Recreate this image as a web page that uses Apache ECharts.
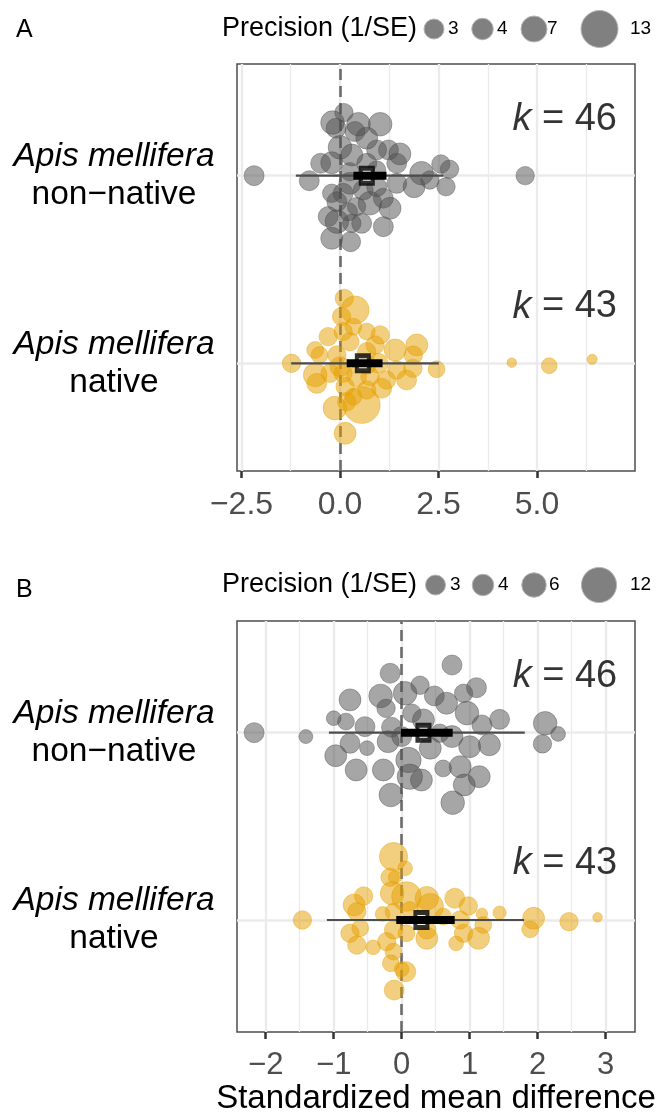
<!DOCTYPE html>
<html>

<head>
    <meta charset="utf-8">
    <script src="https://cdn.jsdelivr.net/npm/echarts@6/dist/echarts.min.js"></script>
    <style>
        html, body { margin: 0; padding: 0; background: #fff; }
    </style>
</head>

<body>
    <div id="main" style="width: 664px;height:1115px;"></div>
    <script type="text/javascript">
        // rows: native = 1, non-native = 2 (y grows upward)
        var rowNames = ['native', 'non\u2212native'];

        // ---------- panel A ----------
        var aNonEffect = [-2.18, -0.78, -0.49, -0.21, 0.10, -0.19, -0.10, 0.47, 0.38, 1.02, 0.68, 0.00, 0.30, 0.93, 1.23, 1.52,
            1.44, 0.68, 2.07, 2.56, 2.78, 2.69, 2.28, 1.88, 1.44, 4.70, 0.25, 0.59, 0.93, -0.21, -0.08, 0.76, 1.10, 1.27,
            -0.30, -0.08, 0.30, 0.55, 0.21, 1.10, -0.21, 0.27, 0.25, 0.93, 0.08, 0.42];
        var aNonJitter = [0, -0.027, 0.066, 0.069, 0.336, 0.283, 0.253, 0.274, 0.235, 0.274, 0.2, 0.151, 0.11, 0.137, 0.137, 0.116,
            0.066, 0.066, 0.013, 0.062, 0.034, -0.059, -0.023, -0.059, -0.041, 0, -0.041, -0.077, -0.059, -0.094, -0.139, -0.147,
            -0.12, -0.174, -0.218, -0.245, -0.254, -0.254, -0.192, -0.272, -0.334, -0.352, 0.021, 0.03, -0.094, -0.165];
        var aNonPrecision = [3, 3, 3, 4.3, 2.7, 5.4, 3, 5.4, 3, 5.4, 4.3, 5.4, 4.3, 3, 3, 4.3,
            3, 3, 5.4, 2.7, 2.7, 2.7, 2.7, 4.3, 3, 2.7, 4.3, 3, 3, 2.7, 3, 5.4,
            3, 4.3, 3, 5.4, 2.7, 3, 2.7, 3, 4.3, 3, 2.7, 2.7, 3, 2.7];

        var aNatEffect = [0.11, 0.38, 0.04, 0.34, -0.30, 0.08, 0.68, 1.02, 0.25, 0.89, -0.63, -0.52, -0.08, 0.68, 1.40, 1.95,
            1.86, -1.23, -0.63, -0.59, -0.25, 0.08, 0.42, 0.76, 0.97, 1.44, 1.69, 1.85, 2.45, 4.36, 5.31, 6.40,
            0.13, 0.68, 1.06, -0.13, 0.55, 0.17, 0.34, 0.13, 0.00, 0.68, 1.18];
        var aNatJitter = [0.346, 0.284, 0.249, 0.195, 0.142, 0.169, 0.169, 0.151, 0.115, 0.098, 0.071, 0.044, 0.044, 0.062, 0.071, 0.098,
            0.044, 0, -0.062, -0.107, -0.053, -0.053, -0.071, -0.071, 0, -0.036, -0.089, -0.027, -0.032, 0.003, -0.013, 0.021,
            -0.124, -0.142, -0.133, -0.239, -0.222, -0.205, -0.178, -0.373, -0.018, -0.009, -0.089];
        var aNatPrecision = [2.7, 8.2, 2.7, 2.4, 2.7, 2.7, 2.4, 2.7, 2.7, 2.7, 2.4, 2.4, 2.7, 2.7, 4.3, 4.3,
            2.7, 2.7, 5.4, 3, 2.7, 2.7, 3, 2.7, 3, 2.7, 3, 2.7, 2.4, 1, 2.2, 1.1,
            2.7, 2.7, 3, 5.4, 13, 2.7, 2.4, 4.3, 3, 2.7, 2.7];

        // [native, non-native]
        var aMean = [0.58, 0.68];
        var aCiLow = [0.17, 0.34];
        var aCiHigh = [1.08, 1.18];
        var aPiLow = [-1.24, -1.12];
        var aPiHigh = [2.51, 2.62];
        var aK = [43, 46];
        var aTicks = [-2.5, 0, 2.5, 5];
        var aTickLabels = ['\u22122.5', '0.0', '2.5', '5.0'];
        var aMinor = [-1.25, 1.25, 3.75, 6.25];
        var aLegendBreaks = [3, 4, 7, 13];

        // ---------- panel B ----------
        var bNonEffect = [-2.17, -1.41, -1.00, -0.82, -0.76, -0.54, -0.76, -0.97, -0.51, -0.67, -0.17, -0.31, -0.23, -0.15, -0.20, 0.05,
            0.15, 0.27, 0.32, 0.42, 0.10, 0.12, 0.29, -0.27, -0.16, 0.48, 0.66, 0.74, 0.91, 1.10, 0.96, 0.74,
            1.00, 1.18, 1.44, 1.29, 0.61, 0.86, 1.14, 0.92, 0.75, 2.11, 2.30, 2.07, 0.00, 0.56];
        var bNonJitter = [0, -0.021, 0.077, 0.059, 0.175, 0.032, -0.057, -0.123, -0.083, -0.199, 0.317, 0.196, 0.130, 0.029, -0.048, 0.210,
            0.104, 0.253, 0.068, -0.083, -0.146, -0.235, -0.253, -0.199, -0.333, 0.196, 0.157, 0.361, 0.210, 0.240, 0.104, -0.021,
            -0.075, 0.041, 0.071, -0.065, -0.191, -0.182, -0.235, -0.279, -0.374, 0.050, -0.007, -0.060, -0.021, -0.003];
        var bNonPrecision = [3, 1.85, 2, 2.4, 4.3, 3, 3, 4.3, 2, 4.3, 3, 5.4, 2.7, 3, 4.3, 5.4,
            2.7, 2.7, 4.3, 4.3, 6.6, 6.6, 4.3, 4.3, 5.4, 3, 4.3, 3, 2.7, 3, 5.4, 4.3,
            4.3, 3, 3, 4.3, 2.4, 4.3, 4.3, 4.3, 5.4, 5.4, 2, 2.7, 3, 2.7];

        var bNatEffect = [-0.12, 0.05, -0.17, -0.10, -0.14, 0.07, 0.37, 0.42, -0.56, -0.70, -0.66, -0.28, -0.12, 0.12, -1.46, 0.78,
            0.98, 1.18, 1.44, 1.94, 1.89, 2.46, 2.88, 0.86, 1.20, -0.76, -0.61, -0.66, -0.42, -0.12, 0.07, 0.37,
            0.37, 0.91, 1.13, 0.80, -0.22, -0.12, -0.16, 0.06, 0.00, -0.11, 0.61];
        var bNatJitter = [0.338, 0.276, 0.228, 0.228, 0.143, 0.125, 0.116, 0.071, 0.128, 0.080, 0.044, 0.032, 0.044, 0.053, 0, 0.116,
            0.075, 0.032, 0.039, 0.009, -0.050, -0.009, 0.014, 0, -0.027, -0.071, -0.044, -0.134, -0.146, -0.053, -0.071, -0.053,
            -0.098, -0.071, -0.098, -0.125, -0.116, -0.169, -0.231, -0.276, -0.263, -0.374, 0.018];
        var bNatPrecision = [8.2, 2, 2.7, 1.7, 5.4, 9, 5.4, 7.3, 2.7, 4.3, 2.7, 2, 2.4, 2.4, 2.7, 3,
            2.7, 1.4, 1.7, 4.3, 2.4, 2.7, 1, 2.7, 2.4, 2.7, 2.4, 2.7, 2, 2.7, 2.4, 2.7,
            4.3, 2.7, 4.3, 2, 2.7, 2.4, 2.4, 3, 2, 3, 2.4];

        var bMean = [0.29, 0.32];
        var bCiLow = [-0.08, -0.01];
        var bCiHigh = [0.78, 0.75];
        var bPiLow = [-1.10, -1.07];
        var bPiHigh = [1.80, 1.81];
        var bK = [43, 46];
        var bTicks = [-2, -1, 0, 1, 2, 3];
        var bTickLabels = ['\u22122', '\u22121', '0', '1', '2', '3'];
        var bMinor = [-1.5, -0.5, 0.5, 1.5, 2.5];
        var bLegendBreaks = [3, 4, 6, 12];

        var FONT = '"Liberation Sans", Arial, sans-serif';
        var GREY = 'rgba(78,78,78,0.5)';
        var ORANGE = 'rgba(230,159,0,0.5)';

        // precision -> point diameter (px)
        function dotSize(p) {
            var s = [[1, 9.5], [3, 20], [4, 21.5], [7, 26], [13, 37]];
            if (p <= s[0][0]) return s[0][1];
            for (var i = 1; i < s.length; i++) {
                if (p <= s[i][0]) {
                    return s[i - 1][1] + (s[i][1] - s[i - 1][1]) * (p - s[i - 1][0]) / (s[i][0] - s[i - 1][0]);
                }
            }
            return 37 + 2 * (p - 13);
        }

        var myChart = echarts.init(document.getElementById('main'));

        function gridLines(gi, majors, minors) {
            var d = [];
            majors.forEach(function (v) { d.push({ xAxis: v, lineStyle: { color: '#ebebeb', width: 2.4, type: 'solid' } }); });
            minors.forEach(function (v) { d.push({ xAxis: v, lineStyle: { color: '#ebebeb', width: 1.3, type: 'solid' } }); });
            [1, 2].forEach(function (v) { d.push({ yAxis: v, lineStyle: { color: '#ebebeb', width: 2.6, type: 'solid' } }); });
            return {
                type: 'scatter', xAxisIndex: gi, yAxisIndex: gi, data: [], silent: true, z: 1,
                markLine: { z: 1, silent: true, symbol: ['none', 'none'], label: { show: false }, animation: false, data: d }
            };
        }

        function zeroLine(gi) {
            return {
                type: 'scatter', xAxisIndex: gi, yAxisIndex: gi, data: [], silent: true, z: 2,
                markLine: {
                    z: 2, silent: true, symbol: ['none', 'none'], label: { show: false }, animation: false,
                    data: [{ xAxis: 0, lineStyle: { color: '#6b6b6b', width: 2.6, type: [11, 6] } }]
                }
            };
        }

        function swarm(gi, row, effect, jitter, prec, color) {
            return {
                type: 'scatter', xAxisIndex: gi, yAxisIndex: gi, z: 3, silent: true,
                data: effect.map(function (x, i) { return [x, row + jitter[i], prec[i]]; }),
                symbolSize: function (v) { return dotSize(v[2]); },
                itemStyle: { color: color, borderColor: color, borderWidth: 0.8, opacity: 1 }
            };
        }

        function range(gi, row, lo, hi, color, width, z) {
            return {
                type: 'line', xAxisIndex: gi, yAxisIndex: gi, z: z, silent: true, symbol: 'none',
                data: [[lo, row], [hi, row]],
                lineStyle: { color: color, width: width, cap: 'butt' }
            };
        }

        function summary(gi, means, ciLo, ciHi, piLo, piHi) {
            var out = [];
            [0, 1].forEach(function (i) {
                var row = i + 1;
                out.push(range(gi, row, piLo[i], piHi[i], '#4d4d4d', 2.2, 4));
                out.push({
                    type: 'scatter', xAxisIndex: gi, yAxisIndex: gi, z: 5, silent: true,
                    data: [[means[i], row]], symbol: 'rect', symbolSize: [12, 15],
                    itemStyle: { color: '#ffffff', borderColor: '#000', borderWidth: 4.5 }
                });
                out.push(range(gi, row, ciLo[i], ciHi[i], '#000000', 8, 6));
            });
            return out;
        }

        function kLabels(gi, xPos, ks) {
            return {
                type: 'scatter', xAxisIndex: gi, yAxisIndex: gi, z: 7, silent: true,
                data: [[xPos, 1.3, ks[0]], [xPos, 2.3, ks[1]]],
                symbolSize: 0,
                label: {
                    show: true, position: 'left', distance: 0,
                    formatter: function (p) { return '{i|k}{n| = ' + p.value[2] + '}'; },
                    rich: {
                        i: { fontStyle: 'italic', fontFamily: FONT, fontSize: 38, color: '#000' },
                        n: { fontFamily: FONT, fontSize: 38, color: '#000' }
                    }
                }
            };
        }

        function yAxisFor(gi, min, max) {
            return {
                gridIndex: gi, type: 'value', min: min, max: max,
                splitLine: { show: false }, axisLine: { show: false },
                axisTick: { show: true, customValues: [1, 2], length: 7, lineStyle: { color: '#333', width: 2.5 } },
                axisLabel: {
                    customValues: [1, 2], align: 'center', margin: 123,
                    formatter: function (v) { return '{it|Apis mellifera}\n{rg|' + rowNames[Math.round(v) - 1] + '}'; },
                    rich: {
                        it: { fontStyle: 'italic', fontFamily: FONT, fontSize: 33.5, lineHeight: 38, color: '#000', align: 'center' },
                        rg: { fontFamily: FONT, fontSize: 33.5, lineHeight: 38, color: '#000', align: 'center' }
                    }
                }
            };
        }

        function xAxisFor(gi, min, max, ticks, labels, fs, margin) {
            return {
                gridIndex: gi, type: 'value', min: min, max: max,
                splitLine: { show: false }, axisLine: { show: false },
                axisTick: { show: true, customValues: ticks, length: 7, lineStyle: { color: '#333', width: 2.5 } },
                axisLabel: {
                    customValues: ticks, margin: margin, fontFamily: FONT, fontSize: fs, color: '#4d4d4d',
                    formatter: function (v) { return labels[ticks.indexOf(Math.round(v * 100) / 100)]; }
                }
            };
        }

        function legend(top, breaks, cxs, lxs) {
            var g = [{
                type: 'text', z: 10,
                style: { text: 'Precision (1/SE)', x: 222, y: top, fontFamily: FONT, fontSize: 27, fill: '#000', verticalAlign: 'middle' }
            }];
            breaks.forEach(function (b, i) {
                g.push({
                    type: 'circle', z: 10,
                    shape: { cx: cxs[i], cy: top, r: dotSize(b) / 2 },
                    style: { fill: '#808080', stroke: '#b5b5b5', lineWidth: 1 }
                });
                g.push({
                    type: 'text', z: 10,
                    style: { text: String(b), x: lxs[i], y: top, fontFamily: FONT, fontSize: 19, fill: '#000', verticalAlign: 'middle' }
                });
            });
            return g;
        }

        var xA = xAxisFor(0, -2.614, 7.487, aTicks, aTickLabels, 32, 18);
        var xB = xAxisFor(1, -2.422, 3.431, bTicks, bTickLabels, 31, 18);
        xB.name = 'Standardized mean difference';
        xB.nameLocation = 'middle';
        xB.nameGap = 50;
        xB.nameTextStyle = { fontFamily: FONT, fontSize: 33, color: '#000' };

        var option = {
            animation: false,
            backgroundColor: '#ffffff',
            grid: [
                { left: 237, top: 64, width: 398, height: 407, containLabel: false, outerBoundsMode: 'none',
                    show: true, borderColor: '#4d4d4d', borderWidth: 1.5, backgroundColor: '#fff' },
                { left: 237, top: 621, width: 398, height: 411, containLabel: false, outerBoundsMode: 'none',
                    show: true, borderColor: '#4d4d4d', borderWidth: 1.5, backgroundColor: '#fff' }
            ],
            xAxis: [xA, xB],
            yAxis: [yAxisFor(0, 0.426, 2.595), yAxisFor(1, 0.402, 2.596)],
            graphic: [].concat(
                [{ type: 'text', z: 10, style: { text: 'A', x: 16, y: 30, fontFamily: FONT, fontSize: 25, fill: '#000', verticalAlign: 'middle' } },
                { type: 'text', z: 10, style: { text: 'B', x: 16, y: 590, fontFamily: FONT, fontSize: 25, fill: '#000', verticalAlign: 'middle' } }],
                legend(29, aLegendBreaks, [434, 482.5, 534, 599.5], [448, 497, 547, 630]),
                legend(585, bLegendBreaks, [435.5, 483, 534, 599], [450, 498, 549, 630])
            ),
            series: [].concat(
                [gridLines(0, aTicks, aMinor), zeroLine(0),
                swarm(0, 2, aNonEffect, aNonJitter, aNonPrecision, GREY),
                swarm(0, 1, aNatEffect, aNatJitter, aNatPrecision, ORANGE)],
                summary(0, aMean, aCiLow, aCiHigh, aPiLow, aPiHigh),
                [kLabels(0, 7.03, aK)],
                [gridLines(1, bTicks, bMinor), zeroLine(1),
                swarm(1, 2, bNonEffect, bNonJitter, bNonPrecision, GREY),
                swarm(1, 1, bNatEffect, bNatJitter, bNatPrecision, ORANGE)],
                summary(1, bMean, bCiLow, bCiHigh, bPiLow, bPiHigh),
                [kLabels(1, 3.17, bK)]
            )
        };

        myChart.setOption(option);
    </script>
</body>

</html>
